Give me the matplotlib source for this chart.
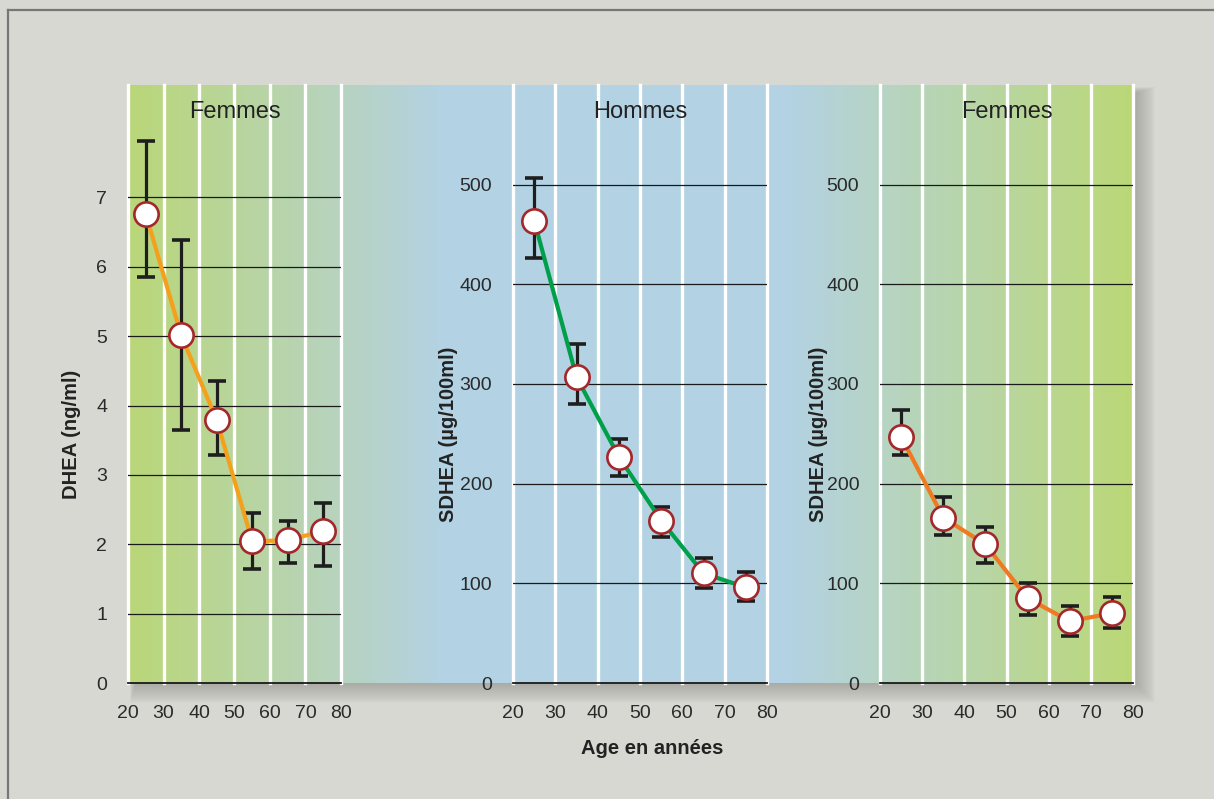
import numpy as np
import matplotlib
matplotlib.use('Agg')
import matplotlib.pyplot as plt
from matplotlib.patches import Rectangle
from matplotlib.lines import Line2D

# data
ages = [25, 35, 45, 55, 65, 75]
xticks = [20, 30, 40, 50, 60, 70, 80]

dhea_f = [6.76, 5.01, 3.79, 2.04, 2.06, 2.19]
dhea_f_hi = [7.81, 6.38, 4.35, 2.45, 2.34, 2.59]
dhea_f_lo = [5.85, 3.65, 3.29, 1.64, 1.73, 1.68]

sdhea_h = [464, 307, 227, 163, 110, 96]
sdhea_h_hi = [507, 340, 245, 177, 125, 111]
sdhea_h_lo = [426, 280, 208, 146, 95, 82]

sdhea_f = [247, 166, 139, 85, 62, 70]
sdhea_f_hi = [274, 187, 157, 100, 77, 86]
sdhea_f_lo = [229, 148, 120, 68, 47, 55]

W, H = 1214, 799
BG = '#d8d8d3'
plt.rcParams['font.family'] = ['Liberation Sans', 'DejaVu Sans']

fig = plt.figure(figsize=(W / 100, H / 100), dpi=100)
fig.patch.set_facecolor(BG)

def fbox(x0, y0, x1, y1):
    # pixel box (top-left origin) -> figure fraction rect
    return [x0 / W, 1 - y1 / H, (x1 - x0) / W, (y1 - y0) / H]

# outer frame (left and top edges only are visible)
fig.add_artist(Line2D([7.5 / W, 7.5 / W], [0, 1 - 10 / H], color='#777777', lw=1.6))
fig.add_artist(Line2D([7.5 / W, 1], [1 - 10 / H, 1 - 10 / H], color='#777777', lw=1.6))

# soft drop shadow behind the coloured panel
px0, py0, px1, py1 = 128, 85, 1135, 683
for i in range(20, 0, -1):
    r = fbox(px0 - i * 0.3 + 8, py0 - i * 0.3 + 8, px1 + i * 1.0, py1 + i * 1.0)
    fig.add_artist(Rectangle((r[0], r[1]), r[2], r[3], transform=fig.transFigure,
                             facecolor='#8a8a85', alpha=0.03, lw=0, zorder=0))

# gradient background panel
bg = fig.add_axes(fbox(px0, py0, px1, py1), zorder=0)
stops_x = [128, 341, 440, 790, 880, 1135]
stops_c = np.array([[186, 215, 120], [183, 211, 192], [179, 210, 227],
                    [179, 210, 227], [182, 212, 196], [187, 216, 118]]) / 255.0
xs = np.arange(px0, px1)
grad = np.stack([np.interp(xs, stops_x, stops_c[:, k]) for k in range(3)], axis=-1)
bg.imshow(grad[np.newaxis, :, :], aspect='auto', extent=[0, 1, 0, 1])
bg.set_axis_off()

# (axes box, values, low, high, line colour, title, y label, ymax, yticks, label x in axes coords)
panels = [
    (fbox(128, 85, 341, 683), dhea_f, dhea_f_lo, dhea_f_hi, '#f5a01c', 'Femmes',
     'DHEA (ng/ml)', 8.62, [0, 1, 2, 3, 4, 5, 6, 7], -0.264),
    (fbox(513, 85, 767, 683), sdhea_h, sdhea_h_lo, sdhea_h_hi, '#00a04b', 'Hommes',
     'SDHEA (µg/100ml)', 600, [0, 100, 200, 300, 400, 500], -0.253),
    (fbox(880, 85, 1133, 683), sdhea_f, sdhea_f_lo, sdhea_f_hi, '#f07a22', 'Femmes',
     'SDHEA (µg/100ml)', 600, [0, 100, 200, 300, 400, 500], -0.245),
]

for rect, vals, lo, hi, col, title, ylab, ymax, yticks, labx in panels:
    ax = fig.add_axes(rect, zorder=2)
    ax.patch.set_alpha(0)
    ax.set_xlim(20, 80)
    ax.set_ylim(0, ymax)
    for x in xticks:
        ax.axvline(x, color='white', lw=2.4, zorder=1, clip_on=False)
    for y in yticks[1:]:
        ax.axhline(y, color='#1a1a1a', lw=0.9, zorder=2)
    for s in ['top', 'right', 'left']:
        ax.spines[s].set_visible(False)
    ax.spines['bottom'].set_color('#1a1a1a')
    ax.spines['bottom'].set_linewidth(1.3)
    ax.spines['bottom'].set_zorder(3)
    ax.set_xticks(xticks)
    ax.set_yticks(yticks)
    ax.tick_params(length=0, labelsize=14, colors='#2a2a2a', pad=15)
    ax.tick_params(axis='x', pad=16)
    v = np.array(vals)
    err = [v - np.array(lo), np.array(hi) - v]
    ax.errorbar(ages, vals, yerr=err, fmt='none', ecolor='#1e1e1e', elinewidth=2.3,
                capsize=6.2, capthick=2.6, zorder=4)
    ax.plot(ages, vals, color=col, lw=3, zorder=5, solid_capstyle='round')
    ax.plot(ages, vals, 'o', ms=17.5, mfc='white', mec='#a3282c', mew=1.9, zorder=6)
    ax.text(0.5, 0.955, title, transform=ax.transAxes, ha='center', va='center',
            fontsize=17, color='#222222')
    ax.text(labx, 0.416, ylab, transform=ax.transAxes, rotation=90, ha='center',
            va='center', fontsize=14.5, fontweight='bold', color='#222222')

fig.text(652 / W, 1 - 748 / H, 'Age en années', ha='center', va='center',
         fontsize=14.5, fontweight='bold', color='#222222')

fig.savefig('out.png', dpi=100, facecolor=BG)
